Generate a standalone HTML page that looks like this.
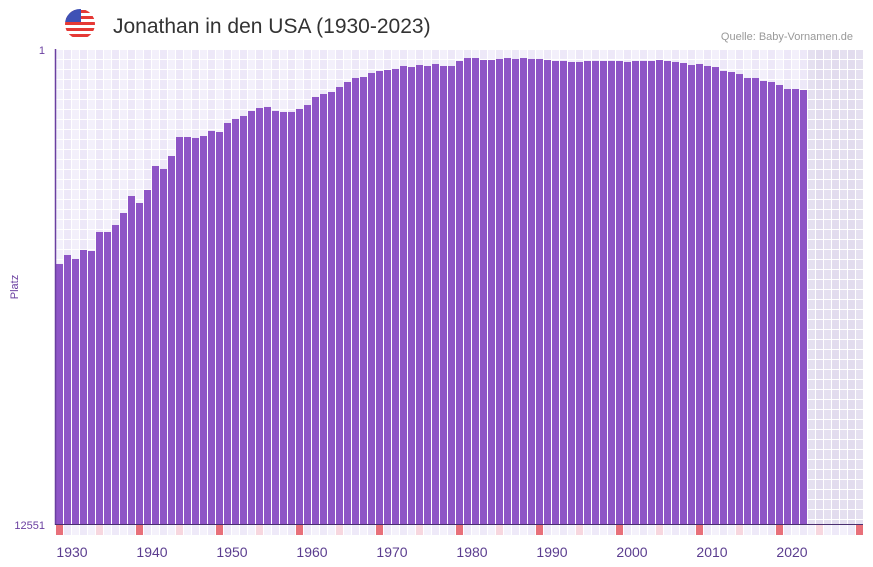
<!DOCTYPE html>
<html><head><meta charset="utf-8">
<style>
body{margin:0;background:#fff;font-family:"Liberation Sans",sans-serif;}
svg{display:block}
</style></head>
<body>
<svg id="chart" width="873" height="567" xmlns="http://www.w3.org/2000/svg">
  <g>
    <clipPath id="fc"><circle cx="80" cy="24" r="15"/></clipPath>
    <g clip-path="url(#fc)">
      <rect x="65" y="9" width="30" height="30" fill="#fff"/>
      <rect x="65" y="10" width="30" height="3" fill="#e53935"/>
      <rect x="65" y="16" width="30" height="3" fill="#e53935"/>
      <rect x="65" y="22" width="30" height="3" fill="#e53935"/>
      <rect x="65" y="28" width="30" height="3" fill="#e53935"/>
      <rect x="65" y="34" width="30" height="3" fill="#e53935"/>
      <rect x="65" y="9" width="16" height="13" fill="#3f51b5"/>
    </g>
  </g>
  <text x="113" y="33" font-size="21" fill="#333">Jonathan in den USA (1930-2023)</text>
  <text x="853" y="40" font-size="11" fill="#999" text-anchor="end">Quelle: Baby-Vornamen.de</text>
  <g id="grid"></g>
  <g id="bars"></g>
  <g id="strip"></g>
  <line x1="55.5" y1="49" x2="55.5" y2="525" stroke="#6a3fa0" stroke-width="1.5"/>
  <line x1="55" y1="524.5" x2="863" y2="524.5" stroke="#4a2f70" stroke-width="1"/>
  <text x="45" y="54" font-size="11" fill="#6a3fa0" text-anchor="end">1</text>
  <text x="45" y="529" font-size="11" fill="#6a3fa0" text-anchor="end">12551</text>
  <text transform="translate(18,287) rotate(-90)" font-size="11" fill="#6a3fa0" text-anchor="middle">Platz</text>
  <g id="xlabels"></g>
</svg>
<script>
const years = [];
for (let y = 1930; y <= 2023; y++) years.push(y);
const ranks = [5681,5444,5549,5311,5338,4836,4836,4651,4334,3885,4070,3726,3092,3171,2828,2326,2326,2352,2300,2167,2194,1956,1850,1771,1639,1560,1533,1639,1665,1665,1586,1481,1269,1190,1137,1005,873,767,741,635,582,556,529,450,477,424,450,397,450,450,318,239,239,292,292,265,239,265,239,265,265,292,318,318,344,344,318,318,318,318,318,344,318,318,318,292,318,344,371,424,397,450,477,582,609,662,767,767,846,873,952,1058,1058,1084];
const tickYears = [1930,1940,1950,1960,1970,1980,1990,2000,2010,2020];
const yMin = 1, yMax = 12551, yStart = 1930, yEnd = 2030;

const NS = "http://www.w3.org/2000/svg";
const X0 = 56, STEP = 8, TOP = 49, BOT = 524;
function xScale(yr){ return X0 + (yr - yStart) * STEP; }
function yScale(r){ return TOP + (r - yMin) / (yMax - yMin) * (BOT - TOP); }
function mk(tag, attrs, parent){ const e = document.createElementNS(NS, tag); for (const k in attrs) e.setAttribute(k, attrs[k]); parent.appendChild(e); return e; }

const grid = document.getElementById('grid');
for (let yr = yStart; yr <= yEnd; yr++) {
  const x = xScale(yr);
  if (x >= 863) break;
  const future = yr > 2023;
  for (let row = 0; row < 48; row++) {
    const y = TOP + row * 10;
    const h = Math.min(9, BOT - y);
    if (h <= 0) continue;
    const c = future ? (yr % 2 ? '#e2dcee' : '#e5e0f0') : (yr % 2 ? '#ede8f8' : '#f3f0fb');
    const r = mk('rect', {x: x, y: y + 1, width: 7, height: h, fill: c}, grid);
    
    
  }
}

const bars = document.getElementById('bars');
years.forEach((yr, i) => {
  const y = yScale(ranks[i]);
  const b = mk('rect', {x: xScale(yr), y: y, width: 7, height: BOT - y, fill: '#8e55c6'}, bars);
  
  
});

const strip = document.getElementById('strip');
for (let yr = yStart; yr <= yEnd; yr++) {
  const x = xScale(yr);
  if (x >= 863) break;
  let c = yr % 2 ? '#eee9f8' : '#f4f1fb';
  if (yr % 10 === 0) c = '#e8707a'; else if (yr % 5 === 0) c = '#f7d7df';
  const s = mk('rect', {x: x, y: 525, width: 7, height: 10, fill: c}, strip);
  
  
}

const xl = document.getElementById('xlabels');
tickYears.forEach(yr => {
  const t = mk('text', {x: xScale(yr) + 16, y: 557, 'font-size': 14, fill: '#5b3d8f', 'text-anchor': 'middle'}, xl);
  t.textContent = yr;
  
  
});
</script>
</body></html>
